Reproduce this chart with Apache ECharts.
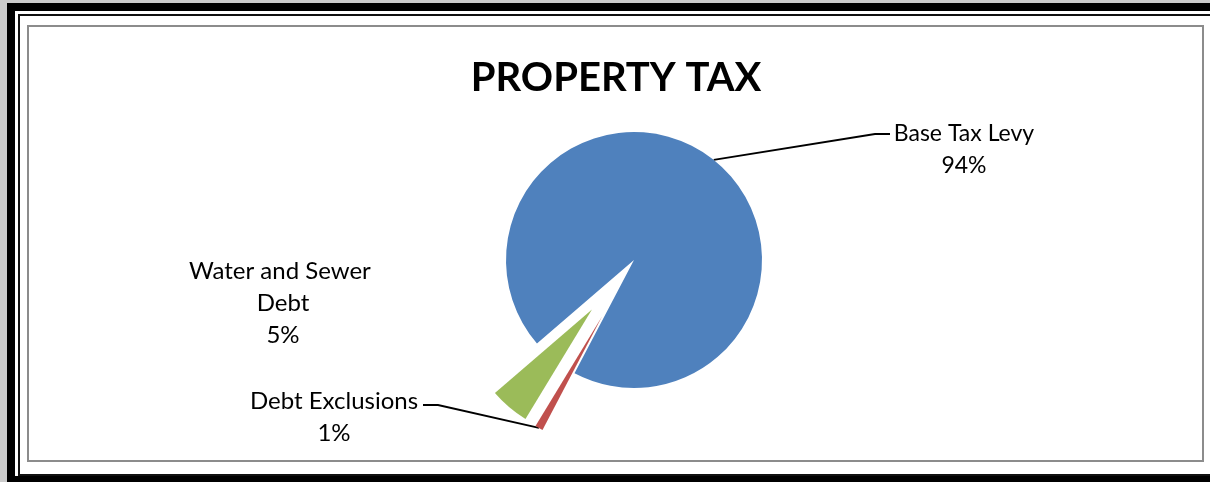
<!DOCTYPE html>
<html>
<head>
<meta charset="utf-8">
<script src="https://cdn.jsdelivr.net/npm/echarts@6/dist/echarts.min.js"></script>
<style>
html,body{margin:0;padding:0;width:1210px;height:482px;overflow:hidden;background:#cbcbcb;position:relative;}
.f{position:absolute;box-sizing:border-box;}
#outer{left:7px;top:3px;width:1300px;height:600px;background:#000;}
#gap{left:15px;top:11px;width:1300px;height:465px;background:#fff;}
#inner{left:18px;top:14px;width:1300px;height:462px;border-left:2px solid #111;border-top:2px solid #111;border-bottom:2px solid #111;background:#fff;}
#plot{left:27px;top:25px;width:1177px;height:437px;border:2px solid #8c8c8c;background:#fff;}
#chart{position:absolute;left:0;top:0;width:1210px;height:482px;}
</style>
</head>
<body>
<div class="f" id="outer"></div>
<div class="f" id="gap"></div>
<div class="f" id="inner"></div>
<div class="f" id="plot"></div>
<div id="chart"></div>
<script>
const categories = ['Base Tax Levy', 'Debt Exclusions', 'Water and Sewer Debt'];
const values = [94, 1, 5];
const colors = ['#4F81BD', '#C0504D', '#9BBB59'];
const exploded = [false, true, true];

const PIE_CENTER = [634, 260];
const PIE_RADIUS = 128;
const START_ANGLE = 220.7;
const EXPLODE = 65;

const labelPos = [
  {x: 964, y: 150, size: 23, line: [[875, 134], [890, 134]]},
  {x: 334, y: 417, size: 24, line: [[438, 405], [423, 405]]},
  {x: 283, y: 303, size: 24, line: null}
];

const total = values.reduce((a, b) => a + b, 0);
let cum = 0;
const offsets = values.map((v, i) => {
  const mid = (START_ANGLE - (cum + v / 2) / total * 360) * Math.PI / 180;
  cum += v;
  const d = exploded[i] ? EXPLODE : 0;
  return [Math.cos(mid) * d, -Math.sin(mid) * d];
});

const series = categories.map((_, k) => ({
  type: 'pie',
  center: [PIE_CENTER[0] + offsets[k][0], PIE_CENTER[1] + offsets[k][1]],
  radius: PIE_RADIUS,
  startAngle: START_ANGLE,
  clockwise: true,
  silent: true,
  avoidLabelOverlap: false,
  emphasis: {disabled: true},
  label: {
    fontFamily: 'Lato',
    fontSize: labelPos[k].size,
    color: '#000',
    lineHeight: 32,
    width: 205,
    overflow: 'break',
    align: 'center',
    formatter: p => p.name + '\n' + Math.round(p.percent) + '%'
  },
  labelLine: {lineStyle: {color: '#000', width: 1.8}},
  labelLayout: function (params) {
    const lp = labelPos[params.dataIndex];
    const res = {x: lp.x, y: lp.y, align: 'center', verticalAlign: 'middle'};
    if (lp.line && params.labelLinePoints) {
      res.labelLinePoints = [params.labelLinePoints[0], lp.line[0], lp.line[1]];
    }
    return res;
  },
  data: categories.map((c, i) => ({
    name: c,
    value: values[i],
    itemStyle: {color: i === k ? colors[i] : 'rgba(0,0,0,0)', borderWidth: 0},
    label: {show: i === k},
    labelLine: {show: i === k && labelPos[i].line !== null}
  }))
}));

const chart = echarts.init(document.getElementById('chart'), null, {renderer: 'canvas'});
chart.setOption({
  backgroundColor: 'transparent',
  animation: false,
  title: {
    text: 'PROPERTY TAX',
    left: 611,
    textAlign: 'center',
    top: 53,
    textStyle: {fontFamily: 'Lato', fontWeight: 'bold', fontSize: 40, color: '#000'}
  },
  series: series
});
</script>
</body>
</html>
